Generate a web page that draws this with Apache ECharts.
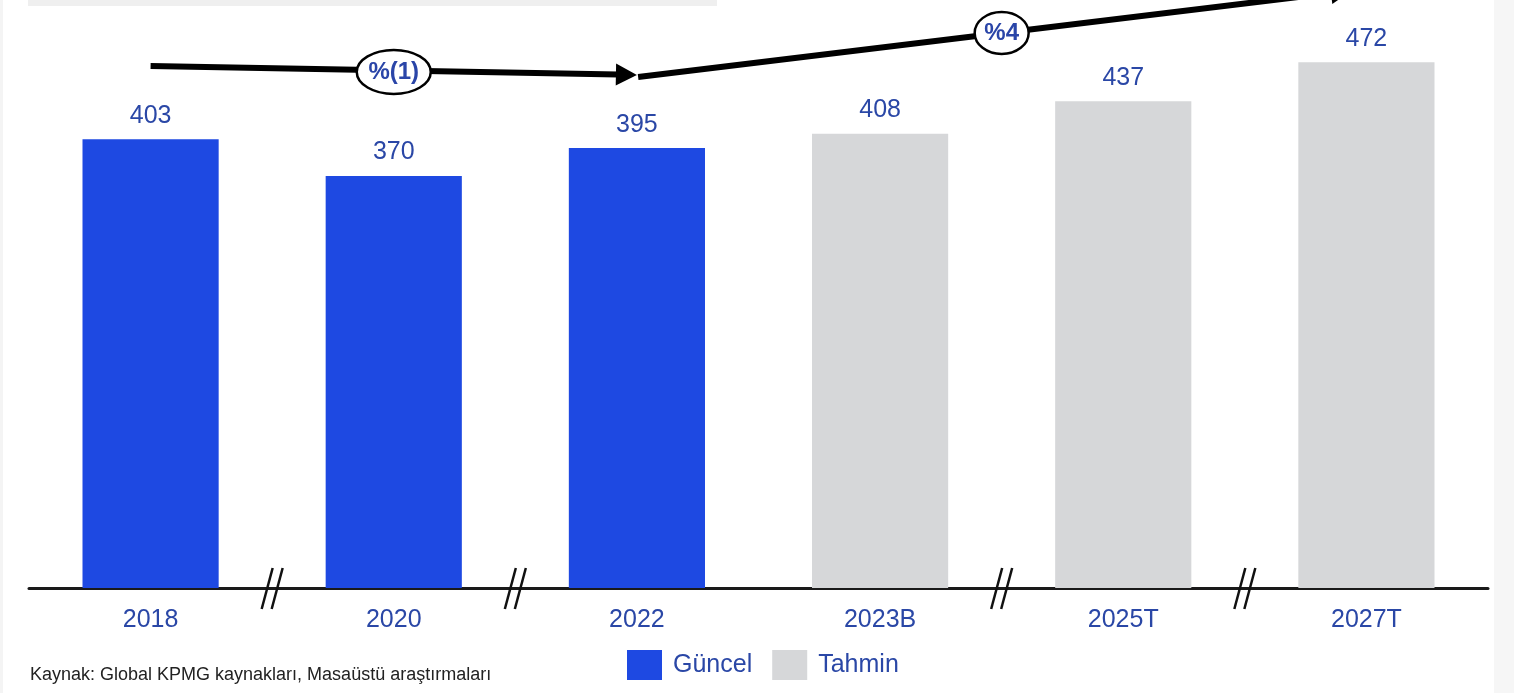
<!DOCTYPE html>
<html>
<head>
<meta charset="utf-8">
<script src="https://cdn.jsdelivr.net/npm/echarts@6/dist/echarts.min.js"></script>
<style>
html,body{margin:0;padding:0;background:#fff;}
#c{width:1514px;height:693px;}
</style>
</head>
<body>
<div id="c"></div>
<script>
var categories = ['2018', '2020', '2022', '2023B', '2025T', '2027T'];
var actualValues = [403, 370, 395, '-', '-', '-'];
var forecastValues = ['-', '-', '-', 408, 437, 472];
var seriesNames = ['Güncel', 'Tahmin'];
var breakAfter = [0, 1, 3, 4];
var trendLines = [
  { from: [0, 468.7], to: [2, 460.7] },
  { from: [2.005, 458.9], to: [4.94, 536.5] }
];
var trendBadges = [
  { at: [1, 463.4], text: '%(1)', rx: 37, ry: 22 },
  { at: [3.5, 498.4], text: '%4', rx: 27, ry: 21 }
];
var sourceText = 'Kaynak: Global KPMG kaynakları, Masaüstü araştırmaları';

var FONT = '"Liberation Sans Narrow", "Arial Narrow", "Liberation Sans", sans-serif';
var BLUE_TEXT = '#2a47a6';

var chart = echarts.init(document.getElementById('c'));
var option = {
  backgroundColor: '#ffffff',
  animation: false,
  grid: { left: 29, right: 26, top: 0, bottom: 105, containLabel: false },
  legend: {
    left: 627, top: 650, padding: 0,
    itemWidth: 35, itemHeight: 30, itemGap: 20,
    icon: 'rect',
    textStyle: { fontFamily: FONT, fontSize: 25, color: BLUE_TEXT, padding: [0, 0, 0, 6] },
    data: seriesNames
  },
  xAxis: {
    type: 'category',
    data: categories,
    boundaryGap: true,
    axisLine: { lineStyle: { color: '#1a1a1a', width: 3 } },
    axisTick: { show: false },
    axisLabel: { fontFamily: FONT, fontSize: 25, color: BLUE_TEXT, margin: 20 }
  },
  yAxis: {
    type: 'value', min: 0, max: 528, show: false,
    splitLine: { show: false }
  },
  series: [
    {
      name: seriesNames[0], type: 'bar', stack: 'all', data: actualValues,
      barWidth: '56%',
      itemStyle: { color: '#1e49e2' },
      label: { show: true, position: 'top', distance: 11, fontFamily: FONT, fontSize: 25, color: BLUE_TEXT }
    },
    {
      name: seriesNames[1], type: 'bar', stack: 'all', data: forecastValues,
      barWidth: '56%',
      itemStyle: { color: '#d6d7d9' },
      label: { show: true, position: 'top', distance: 11, fontFamily: FONT, fontSize: 25, color: BLUE_TEXT }
    }
  ]
};
chart.setOption(option);

var bandW = chart.convertToPixel({ gridIndex: 0 }, [1, 0])[0] - chart.convertToPixel({ gridIndex: 0 }, [0, 0])[0];
function px(p) {
  var i = Math.floor(p[0]), f = p[0] - i;
  var q = chart.convertToPixel({ gridIndex: 0 }, [i, p[1]]);
  return [q[0] + f * bandW, q[1]];
}
var g = [];
// decorative frame strips
g.push({ type: 'rect', shape: { x: 28, y: 0, width: 689, height: 6 }, style: { fill: '#efefef' }, z: 1 });
g.push({ type: 'rect', shape: { x: 1494, y: 0, width: 20, height: 693 }, style: { fill: '#f6f6f6' }, z: 1 });
g.push({ type: 'rect', shape: { x: 0, y: 0, width: 3, height: 693 }, style: { fill: '#f4f4f4' }, z: 1 });

// axis break marks
breakAfter.forEach(function (i) {
  var p = px([i + 0.5, 0]);
  var x = p[0], y = p[1];
  [-5, 5].forEach(function (dx) {
    g.push({ type: 'line', z: 20,
      shape: { x1: x + dx - 5.5, y1: y + 21, x2: x + dx + 5.5, y2: y - 20 },
      style: { stroke: '#111', lineWidth: 2.5 } });
  });
});

// trend arrows
trendLines.forEach(function (t) {
  var a = px(t.from), b = px(t.to);
  var dx = b[0] - a[0], dy = b[1] - a[1];
  var len = Math.sqrt(dx * dx + dy * dy);
  var ux = dx / len, uy = dy / len;
  var headL = 21, headW = 11;
  var bx = b[0] - ux * headL, by = b[1] - uy * headL;
  g.push({ type: 'line', z: 30, shape: { x1: a[0], y1: a[1], x2: bx + ux * 2, y2: by + uy * 2 },
    style: { stroke: '#000', lineWidth: 6 } });
  g.push({ type: 'polygon', z: 30,
    shape: { points: [[b[0], b[1]], [bx - uy * headW, by + ux * headW], [bx + uy * headW, by - ux * headW]] },
    style: { fill: '#000' } });
});

trendBadges.forEach(function (bd) {
  var c = px(bd.at);
  g.push({ type: 'ellipse', z: 40, shape: { cx: c[0], cy: c[1], rx: bd.rx, ry: bd.ry },
    style: { fill: '#fff', stroke: '#000', lineWidth: 2.5 } });
  g.push({ type: 'text', z: 41, x: c[0], y: c[1],
    style: { text: bd.text, fontFamily: FONT, fontSize: 24, fontWeight: 'bold', fill: '#2a45a8',
      align: 'center', verticalAlign: 'middle' } });
});

g.push({ type: 'text', z: 10, left: 30, top: 666,
  style: { text: sourceText, fontFamily: FONT, fontSize: 18, fill: '#222' } });

chart.setOption({ graphic: g });
</script>
</body>
</html>
